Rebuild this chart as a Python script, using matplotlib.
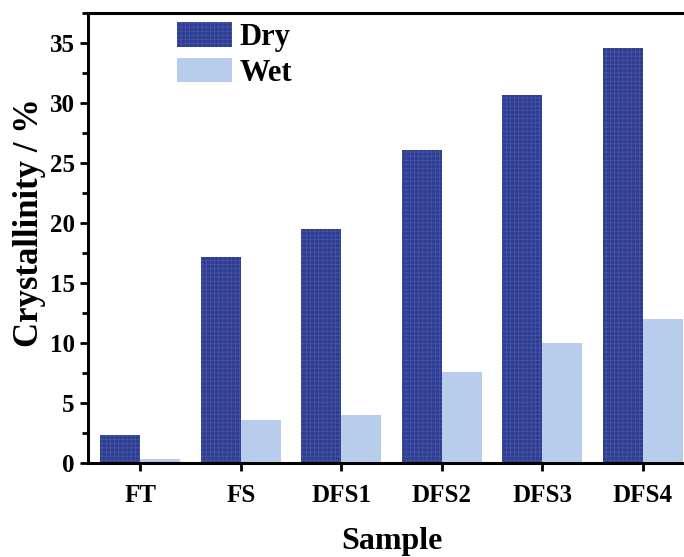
import matplotlib.pyplot as plt
import numpy as np
from matplotlib.ticker import MultipleLocator

samples = ['FT', 'FS', 'DFS1', 'DFS2', 'DFS3', 'DFS4']
dry = [2.33, 17.15, 19.5, 26.1, 30.65, 34.55]
wet = [0.33, 3.6, 4.0, 7.58, 10.0, 12.0]

plt.rcParams['font.family'] = 'Liberation Serif'
plt.rcParams['font.weight'] = 'bold'
plt.rcParams['hatch.linewidth'] = 0.6

fig = plt.figure(figsize=(6.84, 5.57), dpi=100)
ax = fig.add_axes([0.1287, 0.1688, 0.8713, 0.808])

x = np.arange(len(samples))
w = 0.4
ax.bar(x - w / 2, dry, w, facecolor='#2e3d8f', edgecolor='#4453a6',
       hatch='++++', linewidth=0, label='Dry')
ax.bar(x + w / 2, wet, w, color='#b8cdeb', linewidth=0, label='Wet')

ax.set_xlim(-0.52, 5.41)
ax.set_ylim(0, 37.5)
ax.set_xticks(x)
ax.set_xticklabels(samples)
ax.yaxis.set_major_locator(MultipleLocator(5))
ax.yaxis.set_minor_locator(MultipleLocator(2.5))

for s in ['left', 'bottom', 'top']:
    ax.spines[s].set_linewidth(2.2)
ax.spines['right'].set_visible(False)
ax.tick_params(axis='both', which='major', direction='out', width=2, length=6,
               labelsize=18)
ax.tick_params(axis='y', which='minor', direction='out', width=2, length=4)
ax.tick_params(axis='x', pad=9)

ax.set_xlabel('Sample', fontsize=23, fontweight='bold')
ax.set_ylabel('Crystallinity / %', fontsize=25, fontweight='bold')
ax.xaxis.set_label_coords(0.51, -0.143)
ax.yaxis.set_label_coords(-0.07, 0.535)

ax.legend(loc='upper left', bbox_to_anchor=(0.232, 0.993), bbox_transform=fig.transFigure,
          frameon=False, prop={'size': 22, 'weight': 'bold'},
          handlelength=1.8, handleheight=0.85, handletextpad=0.25, labelspacing=0.2,
          borderaxespad=0.2)

fig.savefig('out.png', dpi=100)
